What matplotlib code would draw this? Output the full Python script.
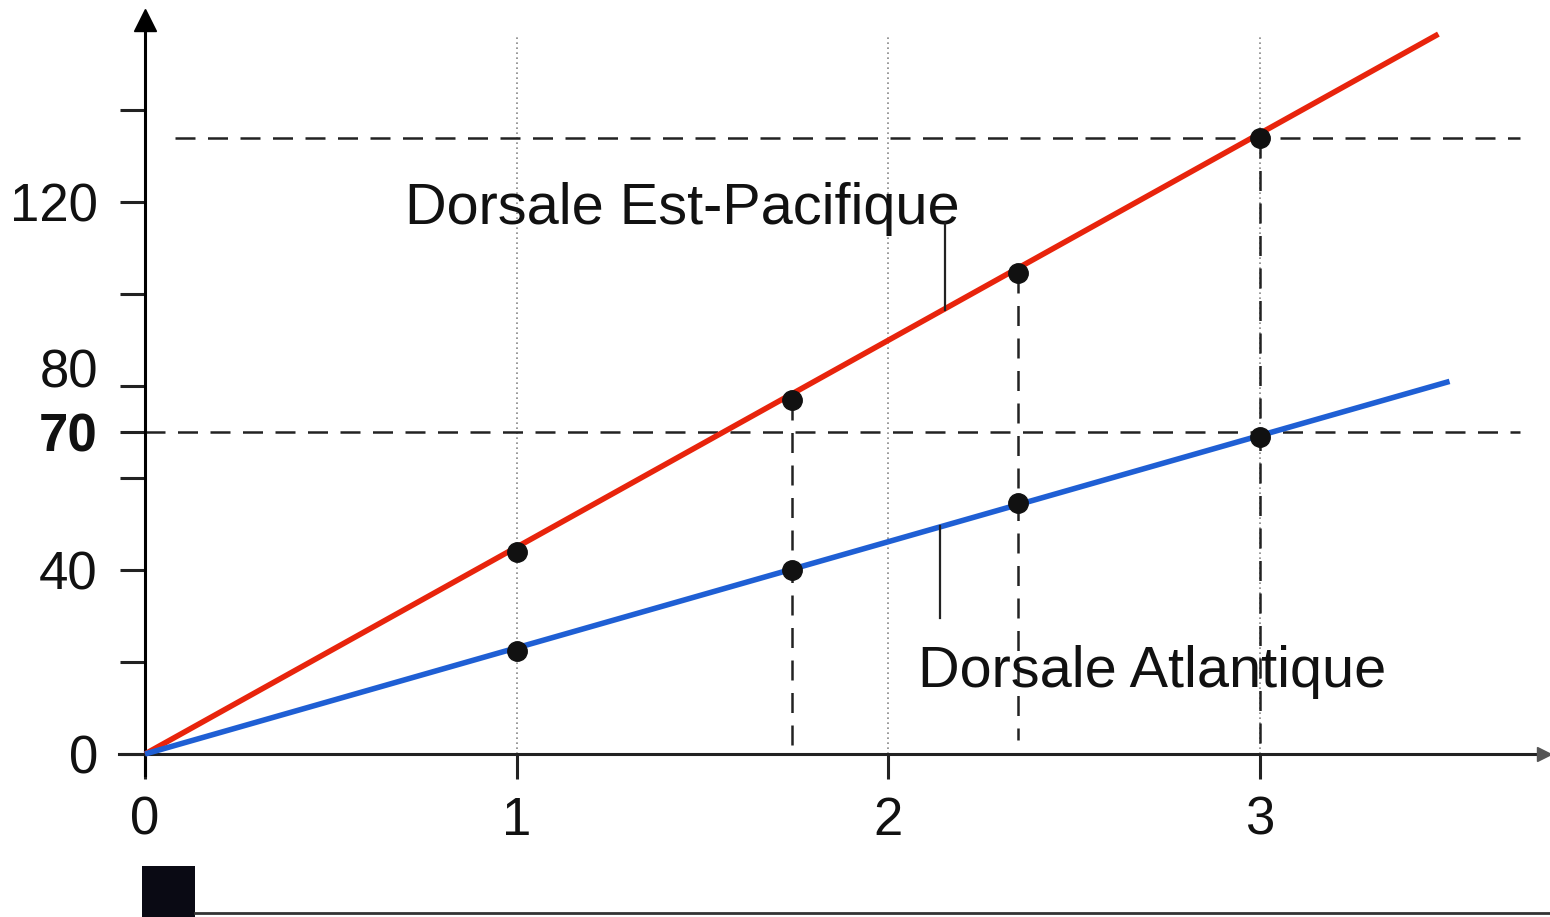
import matplotlib
matplotlib.use("Agg")
import matplotlib.pyplot as plt
from matplotlib.transforms import ScaledTranslation
from matplotlib.patches import Rectangle

plt.rcParams['font.family'] = ['Liberation Sans', 'DejaVu Sans']

# ---- data ----
age_points = [1.0, 1.74, 2.35, 3.0]          # Ma
pacific_dist = [44.0, 77.0, 104.5, 134.0]    # km
atlantic_dist = [22.5, 40.0, 54.5, 69.0]     # km
pacific_line_x = [0.0, 3.48]
pacific_line_y = [0.0, 156.5]
atlantic_line_x = [0.0, 3.51]
atlantic_line_y = [0.0, 81.0]
x_ticks = [0, 1, 2, 3]
x_tick_labels = ['0', '1', '2', '3']
y_ticks = [0, 20, 40, 60, 70, 80, 100, 120, 140]
y_tick_labels = ['0', '', '40', '', '70', '80', '', '120', '']
grid_x = [1, 2, 3]
ref_levels = [134.0, 70.0]
label_pacific = "Dorsale Est-Pacifique"
label_atlantic = "Dorsale Atlantique"

RED = '#e8240c'
BLUE = '#1f5fd4'

W, H = 1550, 917
fig = plt.figure(figsize=(W / 100, H / 100), dpi=100)
ax = fig.add_axes([0, 0, 1, 1])
ax.set_facecolor('white')

# pixel mapping: x=0 -> 145 px, x=3 -> 1260 px ; y=0 -> 754 px(top), y=40 -> 570 px
sx = (1260 - 145) / 3.0
sy = (754 - 570) / 40.0
ax.set_xlim(-145 / sx, (W - 145) / sx)
ax.set_ylim(-(H - 754) / sy, 754 / sy)

# spines as axes
for s in ['top', 'right']:
    ax.spines[s].set_visible(False)
ax.spines['left'].set_position(('data', 0))
ax.spines['bottom'].set_position(('data', 0))
ax.spines['left'].set_bounds(-4.5, 160)
ax.spines['bottom'].set_bounds(-0.07, 3.76)
ax.spines['left'].set_linewidth(2.2)
ax.spines['bottom'].set_linewidth(2.2)
ax.spines['bottom'].set_color('#222222')

# arrow heads
ax.plot([0], [159.5], marker='^', markersize=16, color='black', clip_on=False, zorder=5)
ax.plot([3.765], [0], marker='>', markersize=10, color='#555555', clip_on=False, zorder=5)

# ticks
ax.set_xticks(x_ticks)
ax.set_xticklabels(x_tick_labels)
ax.set_yticks(y_ticks)
ax.set_yticklabels(y_tick_labels)
ax.tick_params(axis='both', direction='out', length=18, width=2.2, labelsize=38, color='#222222',
               labelcolor='#111111')
ax.tick_params(axis='y', pad=16)
ax.tick_params(axis='x', pad=12)
for lab in ax.get_yticklabels():
    if lab.get_text() == '70':
        lab.set_fontweight('bold')
    if lab.get_text() == '80':
        lab.set_transform(lab.get_transform() + ScaledTranslation(0, 0.18, fig.dpi_scale_trans))

# dotted grid verticals
for gx in grid_x:
    ax.plot([gx, gx], [0, 156], linestyle=(0, (1, 2)), color='#888888', linewidth=1.2, zorder=1)

# dashed reference lines
dash = (0, (8, 5))
ax.plot([0.08, 3.70], [ref_levels[0], ref_levels[0]], linestyle=dash, color='#222222', linewidth=1.8, zorder=2)
ax.plot([0.0, 3.70], [ref_levels[1], ref_levels[1]], linestyle=dash, color='#222222', linewidth=1.8, zorder=2)
ax.plot([age_points[1]] * 2, [pacific_dist[1], 0], linestyle=dash, color='#222222', linewidth=1.8, zorder=2)
ax.plot([age_points[2]] * 2, [pacific_dist[2], 3], linestyle=dash, color='#222222', linewidth=1.8, zorder=2)
ax.plot([age_points[3]] * 2, [pacific_dist[3], -5], linestyle=dash, color='#222222', linewidth=1.8, zorder=2)

# series lines
ax.plot(pacific_line_x, pacific_line_y, color=RED, linewidth=4.0, solid_capstyle='butt', zorder=3)
ax.plot(atlantic_line_x, atlantic_line_y, color=BLUE, linewidth=4.0, solid_capstyle='butt', zorder=3)

# points
ax.plot(age_points, pacific_dist, 'o', color='#111111', markersize=14, zorder=4)
ax.plot(age_points, atlantic_dist, 'o', color='#111111', markersize=14, zorder=4)

# labels with leader lines
ax.text(0.70, 118.5, label_pacific, fontsize=41.5, ha='left', va='center', color='#111111')
ax.plot([2.152, 2.152], [96.5, 115.5], color='#222222', linewidth=1.6, zorder=3)
ax.text(2.08, 17.8, label_atlantic, fontsize=41.5, ha='left', va='center', color='#111111')
ax.plot([2.139, 2.139], [29.5, 49.5], color='#222222', linewidth=1.6, zorder=3)

# scan artifacts at the bottom
fig.patches.append(Rectangle((142 / W, 0), 53 / W, 51 / H, transform=fig.transFigure,
                             facecolor='#0a0a14', edgecolor='none'))
fig.add_artist(plt.Line2D([195 / W, 1], [4 / H, 4 / H], transform=fig.transFigure,
                          color='#333333', linewidth=2))

fig.savefig('out.png', dpi=100, facecolor='white')
